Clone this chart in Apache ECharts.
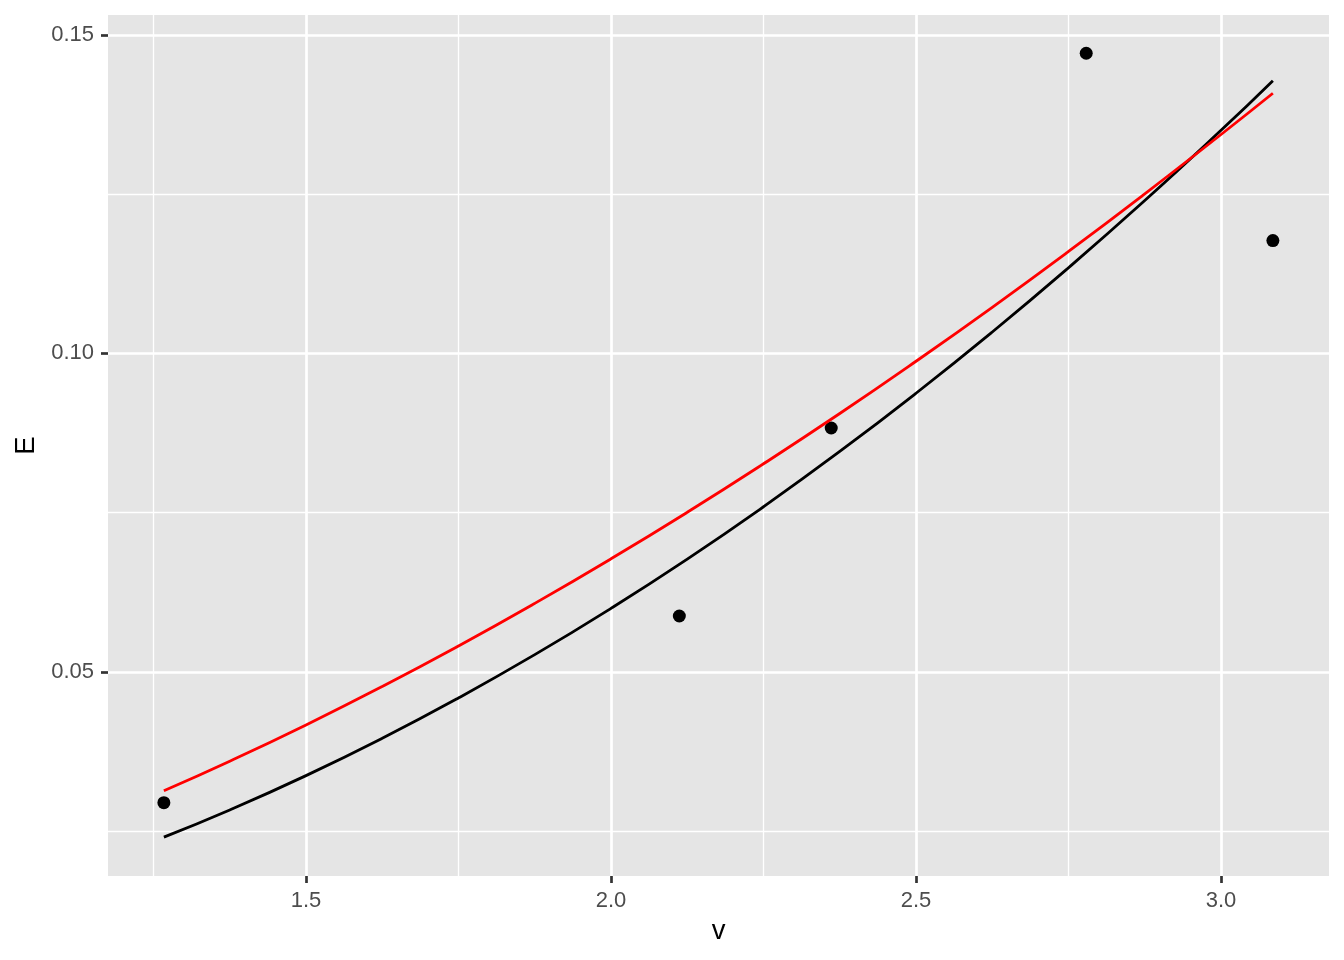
<!DOCTYPE html>
<html>
<head>
<meta charset="utf-8">
<script src="https://cdn.jsdelivr.net/npm/echarts@6/dist/echarts.min.js"></script>
<style>
html,body{margin:0;padding:0;background:#fff;}
#chart{width:1344px;height:960px;}
</style>
</head>
<body>
<div id="chart"></div>
<script>
// Observed points
const pointV = [1.267, 2.112, 2.361, 2.779, 3.085];
const pointE = [0.0295, 0.0588, 0.0883, 0.1471, 0.1177];

// Fitted curves
const curveV = [1.267, 1.375, 1.5, 1.625, 1.75, 1.875, 2.0, 2.125, 2.25, 2.375, 2.5, 2.625, 2.75, 2.875, 3.0, 3.085];
const blackE = [0.0241, 0.02836, 0.03375, 0.03961, 0.04594, 0.05273, 0.0600, 0.06773, 0.07594, 0.08461, 0.09375, 0.10336, 0.11344, 0.12398, 0.1350, 0.1428];
const redE   = [0.03137, 0.03601, 0.04171, 0.04774, 0.05410, 0.06078, 0.06777, 0.07507, 0.08268, 0.09057, 0.09877, 0.10724, 0.11600, 0.12504, 0.13435, 0.14082];

// Axis ticks
const xMajor = [1.5, 2.0, 2.5, 3.0];
const xMinor = [1.25, 1.75, 2.25, 2.75];
const yMajor = [0.05, 0.10, 0.15];
const yMinor = [0.025, 0.075, 0.125];

const FONT = 'Liberation Sans, Arial, Helvetica, sans-serif';
const chart = echarts.init(document.getElementById('chart'), null, {renderer: 'canvas'});

const zip = (a, b) => a.map((v, i) => [v, b[i]]);

const gridLines = [];
xMinor.forEach(v => gridLines.push({xAxis: v, lineStyle: {color: '#ffffff', width: 1.3, type: 'solid'}}));
yMinor.forEach(v => gridLines.push({yAxis: v, lineStyle: {color: '#ffffff', width: 1.3, type: 'solid'}}));
xMajor.forEach(v => gridLines.push({xAxis: v, lineStyle: {color: '#ffffff', width: 2.7, type: 'solid'}}));
yMajor.forEach(v => gridLines.push({yAxis: v, lineStyle: {color: '#ffffff', width: 2.7, type: 'solid'}}));

chart.setOption({
  animation: false,
  textStyle: {fontFamily: FONT},
  grid: {
    left: 108, right: 15, top: 15, bottom: 84,
    show: true, backgroundColor: '#E5E5E5', borderWidth: 0,
    containLabel: false, outerBoundsMode: 'none'
  },
  xAxis: {
    type: 'value',
    min: 1.1754, max: 3.177,
    name: 'v', nameLocation: 'middle', nameGap: 41,
    nameTextStyle: {fontSize: 27.5, color: '#000', fontFamily: FONT},
    axisLine: {show: false},
    axisTick: {show: true, customValues: xMajor, length: 7, lineStyle: {color: '#333333', width: 2.7}},
    axisLabel: {customValues: xMajor, formatter: v => v.toFixed(1), color: '#4D4D4D', fontSize: 22, margin: 14, fontFamily: FONT},
    splitLine: {show: false}
  },
  yAxis: {
    type: 'value',
    min: 0.018, max: 0.1531,
    name: 'E', nameLocation: 'middle', nameGap: 68,
    nameTextStyle: {fontSize: 27.5, color: '#000', fontFamily: FONT},
    axisLine: {show: false},
    axisTick: {show: true, customValues: yMajor, length: 7, lineStyle: {color: '#333333', width: 2.7}},
    axisLabel: {customValues: yMajor, formatter: v => v.toFixed(2), color: '#4D4D4D', fontSize: 22, margin: 14, fontFamily: FONT},
    splitLine: {show: false}
  },
  series: [
    {
      type: 'line', data: [], z: 1, silent: true,
      markLine: {silent: true, z: 1, precision: 6, symbol: ['none', 'none'], label: {show: false}, animation: false, data: gridLines}
    },
    {
      type: 'scatter', data: zip(pointV, pointE), symbolSize: 13, z: 10,
      itemStyle: {color: '#000000', opacity: 1}
    },
    {
      type: 'line', data: zip(curveV, blackE), smooth: true, showSymbol: false, z: 11,
      lineStyle: {color: '#000000', width: 2.8}
    },
    {
      type: 'line', data: zip(curveV, redE), smooth: true, showSymbol: false, z: 12,
      lineStyle: {color: '#FF0000', width: 2.8}
    }
  ]
});
</script>
</body>
</html>
